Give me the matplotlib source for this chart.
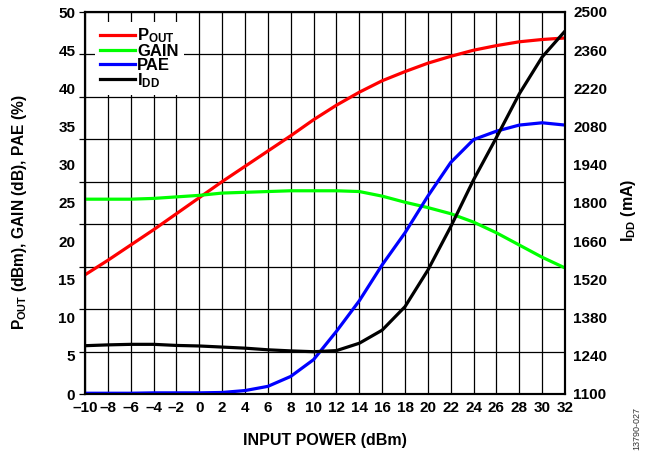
import numpy as np
import matplotlib
matplotlib.use("Agg")
import matplotlib.pyplot as plt

plt.rcParams['font.family'] = ['Liberation Sans', 'DejaVu Sans']
plt.rcParams['font.weight'] = 'bold'
plt.rcParams['mathtext.fontset'] = 'custom'
plt.rcParams['mathtext.rm'] = 'Liberation Sans:bold'
plt.rcParams['mathtext.bf'] = 'Liberation Sans:bold'
plt.rcParams['mathtext.it'] = 'Liberation Sans:bold'

pin = [-10, -8, -6, -4, -2, 0, 2, 4, 6, 8, 10, 12, 14, 16, 18, 20, 22, 24, 26, 28, 30, 32]
pout = [15.6, 17.5, 19.5, 21.5, 23.6, 25.7, 27.8, 29.8, 31.8, 33.8, 35.9, 37.8, 39.5, 41.0,
        42.2, 43.3, 44.2, 45.0, 45.6, 46.1, 46.4, 46.6]
gain = [25.5, 25.5, 25.5, 25.6, 25.8, 26.0, 26.3, 26.4, 26.5, 26.6, 26.6, 26.6, 26.5, 25.9,
        25.1, 24.4, 23.6, 22.5, 21.1, 19.5, 17.9, 16.5]
pae = [0.1, 0.1, 0.1, 0.15, 0.15, 0.15, 0.2, 0.45, 1.0, 2.3, 4.5, 8.2, 12.2, 16.9, 21.1,
       25.9, 30.3, 33.3, 34.4, 35.2, 35.5, 35.2]
idd = [1277, 1280, 1282, 1282, 1278, 1276, 1272, 1268, 1262, 1258, 1255, 1259, 1286, 1334,
       1420, 1554, 1713, 1885, 2040, 2200, 2335, 2430]

xticks = list(range(-10, 33, 2))
xticklabels = [str(v).replace('-', '\u2013') for v in xticks]
left_ticks = list(range(0, 51, 5))
right_ticks = list(range(1100, 2501, 140))

W, H = 650, 454
fig = plt.figure(figsize=(W / 100, H / 100), dpi=100)
ax = fig.add_axes([85 / W, (H - 394) / H, 480 / W, 382 / H])
ax2 = ax.twinx()

fs = 11
ax.set_xlim(-10, 32)
ax.set_ylim(0, 50)
ax2.set_ylim(1100, 2500)

# vertical grid at x ticks
ax.set_xticks(xticks)
ax.set_xticklabels(xticklabels, fontsize=fs, fontweight='bold')
ax.tick_params(axis='x', length=0, pad=5)
ax.grid(True, axis='x', color='black', lw=0.9)

# horizontal grid: 9 equal intervals (independent of labels)
ax.yaxis.remove_overlapping_locs = False
grid_levels = np.linspace(0, 50, 10)
ax.set_yticks(grid_levels)
ax.set_yticklabels([''] * len(grid_levels))
ax.tick_params(axis='y', which='major', length=4, width=0.9, direction='out')
ax.grid(True, axis='y', which='major', color='black', lw=0.9)
ax.set_yticks(left_ticks, minor=True)
ax.set_yticklabels([str(v) for v in left_ticks], minor=True, fontsize=fs, fontweight='bold')
ax.tick_params(axis='y', which='minor', length=0, pad=7)
ax.set_axisbelow(True)

ax2.set_yticks(right_ticks)
ax2.set_yticklabels([str(v) for v in right_ticks], fontsize=fs, fontweight='bold')
ax2.tick_params(axis='y', length=0, pad=6)

for a in (ax, ax2):
    for s in a.spines.values():
        s.set_linewidth(1.5)
        s.set_color('black')

lw = 2.3
l1, = ax.plot(pin, pout, color='#ff0000', lw=lw, label=r'P$_{\mathrm{OUT}}$')
l2, = ax.plot(pin, gain, color='#00ff00', lw=lw, label='GAIN')
l3, = ax.plot(pin, pae, color='#0000ff', lw=lw, label='PAE')
l4, = ax2.plot(pin, idd, color='black', lw=lw, label=r'I$_{\mathrm{DD}}$')

leg = ax2.legend(handles=[l1, l2, l3, l4], loc='upper left', bbox_to_anchor=(0.02, 0.975),
                 frameon=True, fancybox=False, framealpha=1, facecolor='white', edgecolor='none',
                 prop={'size': 12, 'weight': 'bold'}, handlelength=2.1, handletextpad=0.15,
                 labelspacing=-0.08, borderpad=0.3, borderaxespad=0)
leg.set_zorder(10)

fig.text(325 / W, 1 - 440 / H, 'INPUT POWER (dBm)', ha='center', va='center', fontsize=11.5, fontweight='bold')
fig.text(20 / W, 1 - 212 / H, r'P$_{\mathrm{OUT}}$ (dBm), GAIN (dB), PAE (%)', rotation=90,
         ha='center', va='center', fontsize=11.2, fontweight='bold')
fig.text(629 / W, 1 - 210 / H, r'I$_{\mathrm{DD}}$ (mA)', rotation=90,
         ha='center', va='center', fontsize=11.5, fontweight='bold')
fig.text(637 / W, 1 - 428 / H, '13790-027', rotation=90, ha='center', va='center',
         fontsize=6.5, fontweight='normal', color='#333333')

fig.savefig('out.png', dpi=100)
